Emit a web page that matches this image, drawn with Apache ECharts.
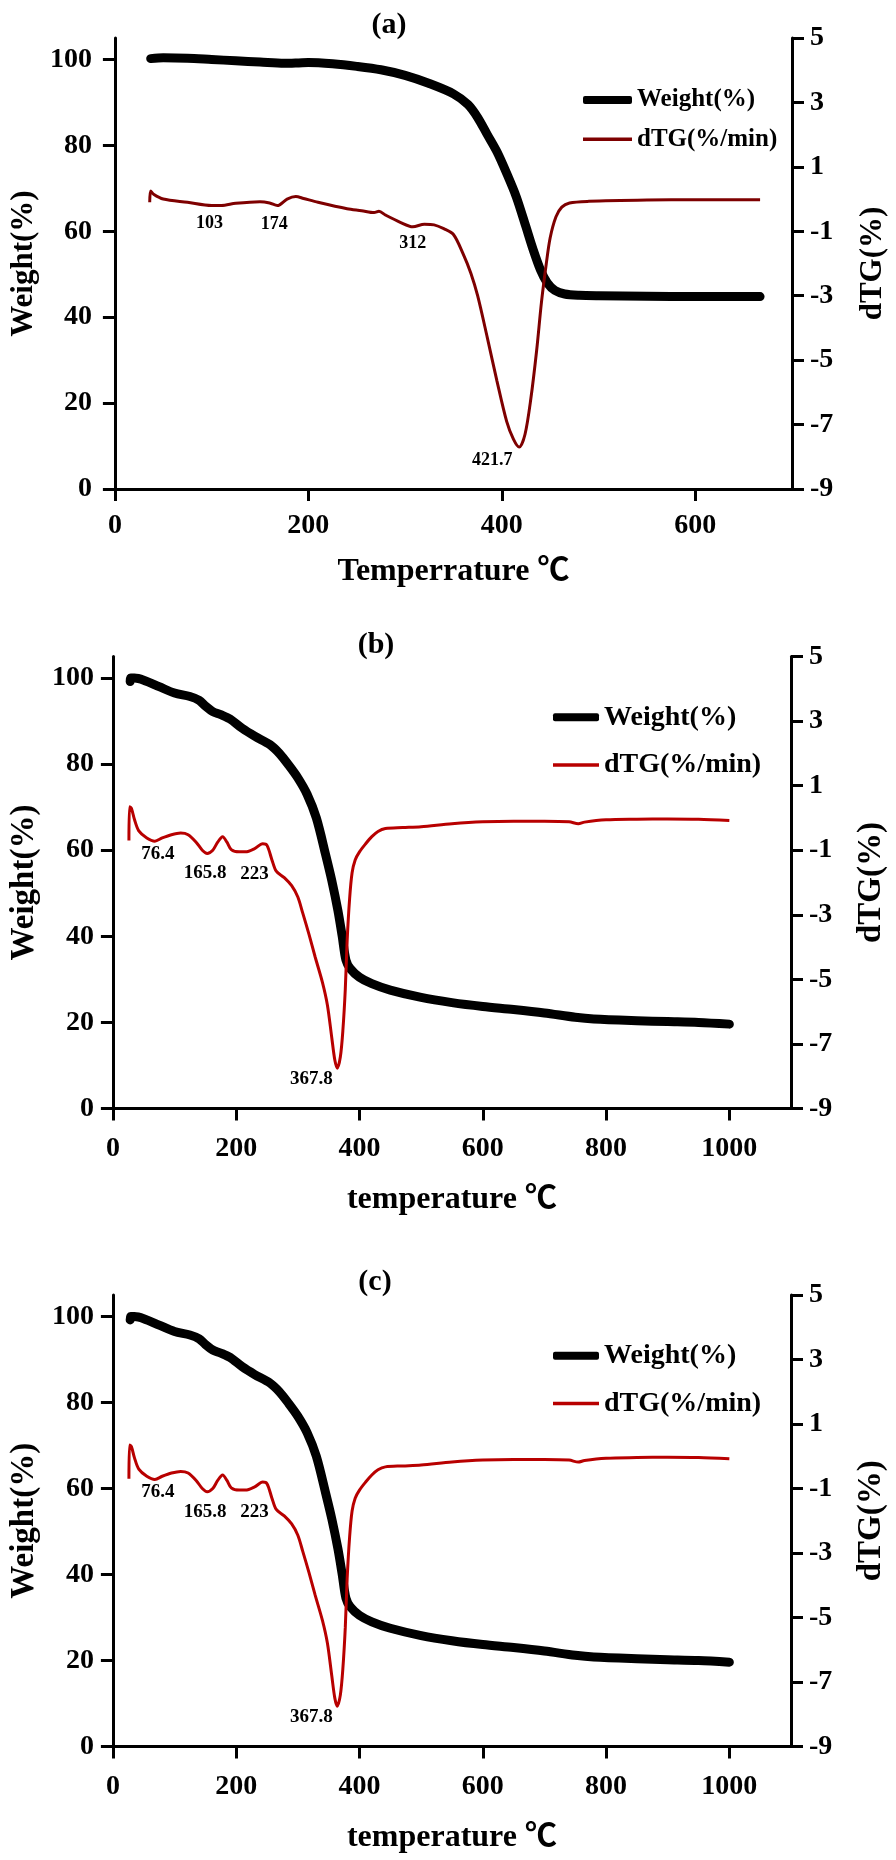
<!DOCTYPE html>
<html><head><meta charset="utf-8">
<script src="https://cdn.jsdelivr.net/npm/echarts@6/dist/echarts.min.js"></script>
<style>html,body{margin:0;padding:0;background:#fff}#c{width:896px;height:1860px}</style>
</head><body><div id="c"></div>
<script>
// ---------- data ----------
const weightTicks = [0, 20, 40, 60, 80, 100];
const dtgTicks = [-9, -7, -5, -3, -1, 1, 3, 5];
const tempTicksA = [0, 200, 400, 600];
const tempTicksB = [0, 200, 400, 600, 800, 1000];

const weightA = [[37,100.2],[50,100.4],[75,100.3],[100,100],[125,99.7],[150,99.4],[175,99.1],[190,99.2],[200,99.3],[225,99],[250,98.4],[275,97.6],[300,96.3],[325,94.4],[350,92],[365,89.5],[375,86.5],[385,82.5],[395,78.5],[405,73.5],[415,68],[425,61],[432,56],[440,51],[447,48],[455,46.2],[465,45.4],[480,45.1],[500,45],[550,44.9],[600,44.8],[667,44.8]];
const dtgA = [[36,-0.1],[37,0.25],[40,0.15],[50,0],[75,-0.1],[100,-0.2],[110,-0.2],[125,-0.13],[150,-0.08],[160,-0.12],[168,-0.2],[178,0],[187,0.08],[195,0.02],[210,-0.1],[240,-0.3],[255,-0.36],[268,-0.42],[273,-0.38],[280,-0.5],[295,-0.72],[308,-0.86],[320,-0.78],[330,-0.8],[340,-0.92],[350,-1.1],[360,-1.7],[368,-2.3],[375,-3],[385,-4.3],[395,-5.65],[405,-6.9],[412,-7.45],[418,-7.7],[424,-7.3],[430,-6.2],[436,-4.7],[441,-3.2],[446,-2],[450,-1.2],[456,-0.55],[462,-0.25],[470,-0.12],[490,-0.07],[550,-0.03],[600,-0.02],[667,-0.02]];

const weightB = [[28,99.2],[29,100],[35,100],[50,99.5],[75,98],[100,96.5],[125,95.7],[140,94.8],[150,93.5],[162,92.2],[175,91.5],[190,90.5],[210,88.3],[230,86.5],[255,84.5],[270,82.5],[285,79.8],[300,76.8],[315,73],[330,67.5],[345,59],[355,53],[365,46],[372,40],[378,34.5],[385,32.5],[400,30.5],[420,29],[450,27.5],[500,25.8],[550,24.6],[600,23.7],[650,23],[700,22.2],[750,21.2],[780,20.8],[850,20.4],[900,20.2],[950,20],[1000,19.6]];
const dtgB = [[26,-0.7],[27,0.35],[30,0.3],[35,-0.05],[42,-0.4],[55,-0.62],[68,-0.72],[80,-0.62],[95,-0.52],[110,-0.47],[122,-0.52],[135,-0.75],[145,-1.0],[153,-1.1],[162,-1.0],[170,-0.75],[178,-0.58],[185,-0.75],[192,-0.98],[205,-1.05],[215,-1.05],[230,-0.95],[243,-0.8],[250,-0.85],[258,-1.3],[265,-1.65],[278,-1.85],[290,-2.1],[300,-2.45],[308,-2.95],[318,-3.6],[328,-4.3],[340,-5.1],[348,-5.8],[355,-6.8],[360,-7.5],[364,-7.75],[369,-7.4],[373,-6.6],[377,-5.3],[380,-3.8],[384,-2.5],[388,-1.7],[393,-1.3],[400,-1.05],[410,-0.8],[420,-0.58],[430,-0.42],[442,-0.33],[470,-0.3],[500,-0.27],[550,-0.18],[600,-0.12],[650,-0.1],[700,-0.1],[740,-0.12],[755,-0.18],[765,-0.13],[800,-0.06],[850,-0.04],[900,-0.03],[950,-0.04],[1000,-0.08]];

const weightC = weightB;
const dtgC = dtgB;

const peaksA = [['103',103,-0.2],['174',170,-0.2],['312',312,-0.86],['421.7',418,-7.7]];
const peaksB = [['76.4',68,-0.72],['165.8',153,-1.1],['223',215,-1.05],['367.8',364,-7.75]];
const peaksC = peaksB;

// ---------- layout / style ----------
const FF = "'Liberation Serif','Times New Roman','Noto Sans CJK SC',serif";
const panels = [
  {title:'(a)', tx:384, ty:5, grid:{left:106, top:38, width:687, height:451}, xMax:700, xTicks:tempTicksA,
   xName:'Temperrature \u2103', xNameGap:67, nameFS:32, yNameFS:31, yGapL:70, yGapR:65,
   mX:23, mL:23, mR:18, legLeft:578, legTops:[82.5,121.8], legFS:25, legW:49,
   dtgColor:'#7e0000', w:weightA, d:dtgA, peaks:peaksA, off:[[-5,18],[-5,19],[-4,17],[-27,13]], peakFS:18},
  {title:'(b)', tx:371, ty:625, grid:{left:107.5, top:656.5, width:686, height:452}, xMax:1100, xTicks:tempTicksB,
   xName:'temperature \u2103', xNameGap:75, nameFS:32, yNameFS:33, yGapL:64, yGapR:64,
   mX:26, mL:19, mR:18, legLeft:548, legTops:[698.3,746], legFS:28, legW:46,
   dtgColor:'#b80000', w:weightB, d:dtgB, peaks:peaksB, off:[[3,13],[-2,20],[9,22],[-26,11]], peakFS:19},
  {title:'(c)', tx:370, ty:1262, grid:{left:107.5, top:1295, width:686, height:451.5}, xMax:1100, xTicks:tempTicksB,
   xName:'temperature \u2103', xNameGap:75, nameFS:32, yNameFS:33, yGapL:64, yGapR:64,
   mX:26, mL:19, mR:18, legLeft:548, legTops:[1336.8,1384.5], legFS:28, legW:46,
   dtgColor:'#b80000', w:weightC, d:dtgC, peaks:peaksC, off:[[3,13],[-2,20],[9,22],[-26,11]], peakFS:19}
];

const txt = (fs) => ({fontFamily:FF, fontWeight:'bold', fontSize:fs, color:'#000'});
const axLine = {show:true, onZero:false, lineStyle:{color:'#000', width:3}};
const axTick = (vals) => ({show:true, inside:false, length:12, lineStyle:{color:'#000', width:3}, customValues:vals});
const plain = (v) => String(v);

const option = {animation:false, backgroundColor:'#fff', title:[], grid:[], xAxis:[], yAxis:[], series:[], legend:[]};

panels.forEach((p, i) => {
  option.title.push({text:p.title, left:p.tx, top:p.ty, textAlign:'center', textStyle:txt(30)});
  option.grid.push(Object.assign({containLabel:false}, p.grid));
  option.xAxis.push({type:'value', gridIndex:i, min:0, max:p.xMax,
    name:p.xName, nameLocation:'middle', nameGap:p.xNameGap, nameTextStyle:txt(p.nameFS),
    axisLine:axLine, axisTick:axTick(p.xTicks), splitLine:{show:false},
    axisLabel:Object.assign(txt(28), {margin:p.mX, customValues:p.xTicks, formatter:plain})});
  option.yAxis.push({type:'value', gridIndex:i, position:'left', min:0, max:105,
    name:'Weight(%)', nameLocation:'middle', nameGap:p.yGapL, nameTextStyle:txt(p.yNameFS),
    axisLine:axLine, axisTick:axTick(weightTicks), splitLine:{show:false},
    axisLabel:Object.assign(txt(28), {margin:p.mL, customValues:weightTicks, formatter:plain})});
  option.yAxis.push({type:'value', gridIndex:i, position:'right', min:-9, max:5,
    name:'dTG(%)', nameLocation:'middle', nameGap:p.yGapR, nameTextStyle:txt(p.yNameFS),
    axisLine:axLine, axisTick:axTick(dtgTicks), splitLine:{show:false},
    axisLabel:Object.assign(txt(28), {margin:p.mR, customValues:dtgTicks, formatter:plain})});
  option.series.push({type:'line', name:'Weight(%)', xAxisIndex:i, yAxisIndex:2*i, data:p.w,
    showSymbol:false, smooth:0.3, lineStyle:{color:'#000', width:9, cap:'round', join:'round'}, itemStyle:{color:'#000'}, z:2});
  option.series.push({type:'line', name:'dTG(%/min)', xAxisIndex:i, yAxisIndex:2*i+1, data:p.d,
    showSymbol:false, smooth:0.3, lineStyle:{color:p.dtgColor, width:3}, itemStyle:{color:p.dtgColor}, z:3,
    markPoint:{symbol:'circle', symbolSize:0, silent:true,
      data:p.peaks.map((pk, k) => ({name:pk[0], coord:[pk[1], pk[2]],
        label:Object.assign(txt(p.peakFS), {show:true, position:'inside', offset:p.off[k], formatter:'{b}'})}))}});
  option.legend.push({left:p.legLeft, top:p.legTops[0], orient:'vertical', selectedMode:false,
    itemWidth:p.legW, itemHeight:8, itemGap:0, textStyle:txt(p.legFS),
    data:[{name:'Weight(%)', icon:'roundRect', itemStyle:{color:'#000'}}]});
  option.legend.push({left:p.legLeft, top:p.legTops[1], orient:'vertical', selectedMode:false,
    itemWidth:p.legW, itemHeight:3.5, itemGap:0, textStyle:txt(p.legFS),
    data:[{name:'dTG(%/min)', icon:'rect', itemStyle:{color:p.dtgColor}}]});
});

const chart = echarts.init(document.getElementById('c'), null, {renderer:'canvas'});
chart.setOption(option);
</script></body></html>
